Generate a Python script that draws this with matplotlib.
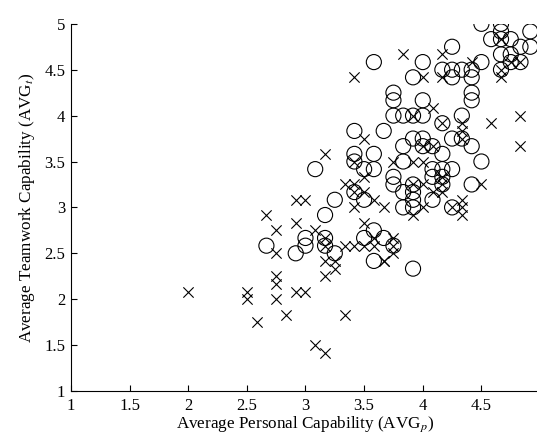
import matplotlib
matplotlib.use("Agg")
import matplotlib.pyplot as plt

# circle series (o)
circle_x = [3.583, 3.417, 3.667, 3.083, 3.417, 3.583, 3.417, 3.5, 3.583, 4.0,
            3.917, 3.75, 3.75, 4.0, 3.75, 3.833, 3.917, 4.0, 3.417, 3.5,
            3.25, 3.167, 3.833, 3.917, 4.0, 4.0, 4.083, 3.833, 3.75, 3.75,
            3.833, 3.917, 3.917, 3.833, 3.917, 3.917, 4.25, 4.5, 4.167, 4.25,
            4.333, 4.417, 4.25, 4.417, 4.417, 4.417, 4.333, 4.167, 4.25, 4.333,
            4.417, 4.5, 4.167, 4.083, 4.167, 4.25, 4.083, 4.167, 4.417, 4.167,
            4.083, 4.25, 4.5, 4.667, 4.667, 4.917, 4.583, 4.667, 4.75, 4.833,
            4.917, 4.667, 4.75, 4.75, 4.833, 4.667, 3.667, 3.75, 3.917, 3.0,
            3.0, 3.167, 3.167, 2.667, 2.917, 3.25, 3.5, 3.583, 3.583]
circle_y = [4.583, 3.833, 3.833, 3.417, 3.583, 3.583, 3.5, 3.417, 3.417, 4.583,
            4.417, 4.25, 4.167, 4.167, 4.0, 4.0, 4.0, 4.0, 3.167, 3.083,
            3.083, 2.917, 3.667, 3.75, 3.75, 3.667, 3.667, 3.5, 3.333, 3.25,
            3.167, 3.25, 3.167, 3.0, 3.0, 3.083, 4.75, 4.583, 4.5, 4.5,
            4.5, 4.5, 4.417, 4.417, 4.25, 4.167, 4.0, 3.917, 3.75, 3.75,
            3.667, 3.5, 3.583, 3.417, 3.417, 3.417, 3.333, 3.333, 3.25, 3.25,
            3.083, 3.0, 5.0, 5.0, 4.917, 4.917, 4.833, 4.833, 4.833, 4.75,
            4.75, 4.667, 4.667, 4.583, 4.583, 4.5, 2.667, 2.583, 2.333, 2.667,
            2.583, 2.667, 2.583, 2.583, 2.5, 2.5, 2.667, 2.75, 2.417]

# cross series (x)
cross_x = [3.417, 3.5, 3.167, 3.5, 3.333, 3.417, 4.0, 3.917, 3.417, 3.417,
           3.5, 3.583, 3.667, 3.417, 3.5, 3.75, 3.917, 4.0, 3.917, 4.0,
           3.917, 3.833, 4.167, 4.417, 4.167, 4.083, 4.583, 4.833, 4.833, 4.167,
           4.333, 4.333, 4.333, 4.0, 4.083, 4.167, 4.5, 4.083, 4.167, 4.333,
           4.667, 4.75, 4.833, 4.667, 4.667, 4.167, 4.0, 4.25, 4.333, 4.333,
           3.75, 3.75, 3.667, 3.75, 2.917, 3.0, 2.667, 2.75, 2.917, 3.083,
           3.167, 3.167, 2.75, 3.167, 3.25, 3.25, 3.167, 3.583, 3.583, 3.333,
           3.417, 3.5, 3.667, 2.75, 2.75, 2.5, 2.5, 2.75, 2.917, 3.0,
           2.833, 2.583, 3.333, 3.083, 3.167, 2.0]
cross_y = [4.417, 3.75, 3.583, 3.333, 3.25, 3.25, 4.417, 4.0, 3.5, 3.167,
           3.167, 3.083, 3.0, 3.0, 2.833, 3.5, 3.5, 3.5, 3.25, 3.25,
           2.917, 4.667, 4.667, 4.583, 4.417, 4.083, 3.917, 4.0, 3.667, 3.917,
           3.917, 3.833, 3.75, 3.667, 3.667, 3.333, 3.25, 3.167, 3.167, 3.083,
           4.833, 4.583, 4.583, 4.5, 4.417, 3.25, 3.0, 3.0, 3.0, 2.917,
           2.667, 2.5, 2.417, 2.583, 3.083, 3.083, 2.917, 2.75, 2.833, 2.75,
           2.667, 2.583, 2.5, 2.417, 2.417, 2.333, 2.25, 2.667, 2.583, 2.583,
           2.583, 2.583, 2.417, 2.25, 2.167, 2.083, 2.0, 2.0, 2.083, 2.083,
           1.833, 1.75, 1.833, 1.5, 1.417, 2.083]

ticks = [1, 1.5, 2, 2.5, 3, 3.5, 4, 4.5, 5]
tick_labels = ['1', '1.5', '2', '2.5', '3', '3.5', '4', '4.5', '5']

plt.rcParams['font.family'] = ['Liberation Serif', 'DejaVu Serif']
plt.rcParams['mathtext.fontset'] = 'stix'

fig = plt.figure(figsize=(5.37, 4.36), dpi=100)
ax = fig.add_axes([0.132, 0.1032, 0.8737, 0.8422])

ax.scatter(circle_x, circle_y, s=118, facecolors='none', edgecolors='black',
           linewidths=0.8, marker='o')
ax.scatter(cross_x, cross_y, s=55, c='black', linewidths=0.8, marker='x')

ax.set_xlim(1, 5)
ax.set_ylim(1, 5)
ax.set_xticks(ticks)
ax.set_yticks(ticks)
ax.set_xticklabels(tick_labels)
ax.set_yticklabels(tick_labels)
ax.spines['top'].set_visible(False)
ax.spines['right'].set_visible(False)
ax.tick_params(direction='in', length=4, width=0.8, labelsize=12, pad=5)
ax.tick_params(axis='y', pad=4)
for sp in ['left', 'bottom']:
    ax.spines[sp].set_linewidth(0.8)

ax.set_xlabel('Average Personal Capability (AVG$_{p}$)', fontsize=12.3, labelpad=0)
ax.set_ylabel('Average Teamwork Capability (AVG$_{t}$)', fontsize=12.3, labelpad=5)

fig.savefig('out.png', dpi=100)
